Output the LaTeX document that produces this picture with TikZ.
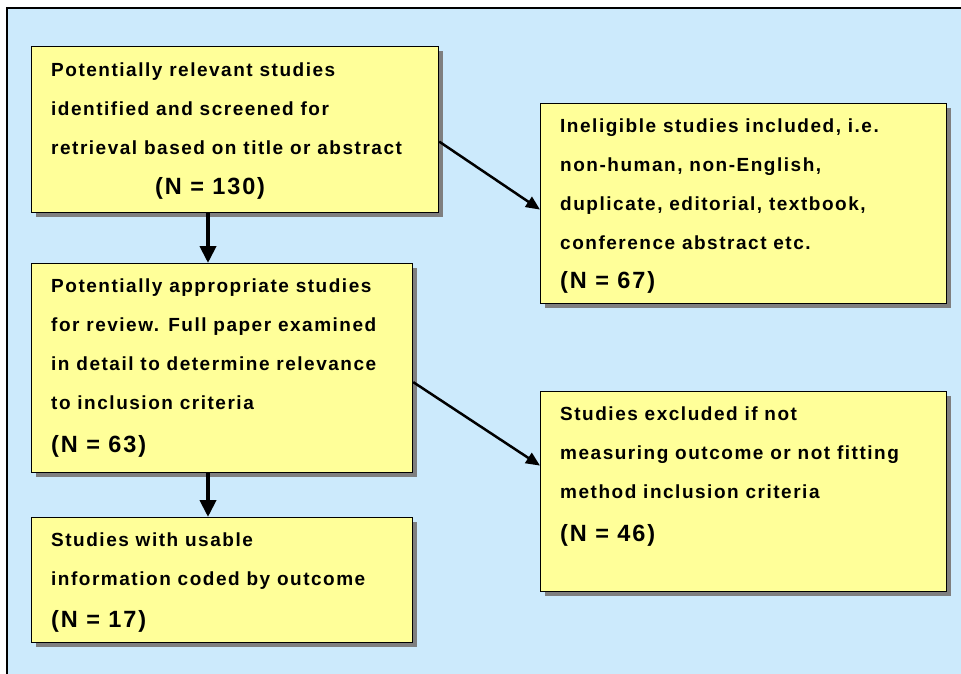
\documentclass[tikz,border=0pt]{standalone}
\usepackage{fontspec}
\setmainfont{Liberation Sans}[LetterSpace=8]
\usepackage{tikz}
\usetikzlibrary{arrows.meta,calc,positioning,shadows}

\definecolor{bgblue}{HTML}{CCEAFC}
\definecolor{boxyellow}{HTML}{FFFF99}
\definecolor{shadowgrey}{HTML}{7F7F7F}

\newcommand{\countline}[1]{{\fontsize{23.5}{39}\selectfont #1}}

\begin{document}
\begin{tikzpicture}[x=1pt, y=1pt,
  stagebox/.style={draw=black, fill=boxyellow, line width=1.2pt, anchor=north west, inner sep=0pt,
    drop shadow={opacity=1, fill=shadowgrey, shadow xshift=4pt, shadow yshift=-4pt}},
  stagetext/.style={anchor=north west, inner sep=0pt, align=left, font=\fontsize{19}{39}\selectfont\bfseries},
  thickarrow/.style={line width=4pt, -{Triangle[length=17pt, width=16pt]}},
  thinarrow/.style={line width=2.5pt, -{Triangle[length=14pt, width=12pt]}}]

  \useasboundingbox (0,0) rectangle (961,-674);
  \fill[bgblue] (7,-8) rectangle (961,-674);
  \draw[line width=2pt] (7,-674) -- (7,-8) -- (961,-8);

  % left column
  \node[stagebox, minimum width=407pt, minimum height=166pt] (screened) at (31,-46) {};
  \node[stagebox, minimum width=381pt, minimum height=209pt] (appraised) at (31,-263) {};
  \node[stagebox, minimum width=381pt, minimum height=125pt] (coded) at (31,-517) {};

  % right column
  \node[stagebox, minimum width=406pt, minimum height=200pt] (ineligible) at (540,-103) {};
  \node[stagebox, minimum width=406pt, minimum height=200pt] (excluded) at (540,-391) {};

  \node[stagetext] (screenedtxt) at ([shift={(20,-17)}]screened.north west)
    {Potentially relevant studies\\ identified and screened for\\ retrieval based on title or abstract\\[1pt] \hspace*{104pt}\countline{(N = 130)}};
  \node[stagetext] (appraisedtxt) at ([shift={(20,-15.5)}]appraised.north west)
    {Potentially appropriate studies\\ for review. Full paper examined\\ in detail to determine relevance\\ to inclusion criteria\\[4pt] \countline{(N = 63)}};
  \node[stagetext] (codedtxt) at ([shift={(20,-15.5)}]coded.north west)
    {Studies with usable\\ information coded by outcome\\[3pt] \countline{(N = 17)}};
  \node[stagetext] (ineligibletxt) at ([shift={(20,-15.5)}]ineligible.north west)
    {Ineligible studies included, i.e.\\ non-human, non-English,\\ duplicate, editorial, textbook,\\ conference abstract etc.\\[0pt] \countline{(N = 67)}};
  \node[stagetext] (excludedtxt) at ([shift={(20,-15.5)}]excluded.north west)
    {Studies excluded if not\\ measuring outcome or not fitting\\ method inclusion criteria\\[4pt] \countline{(N = 46)}};

  \coordinate (stem) at (208,0);
  \draw[thickarrow] (screened.south -| stem) -- (appraised.north -| stem);
  \draw[thickarrow] (appraised.south -| stem) -- (coded.north -| stem);
  \draw[thinarrow] ([yshift=-12pt]screened.east) -- ([yshift=-6pt]ineligible.west);
  \draw[thinarrow] ([yshift=-14pt]appraised.east) -- ([yshift=26pt]excluded.west);

\end{tikzpicture}
\end{document}
